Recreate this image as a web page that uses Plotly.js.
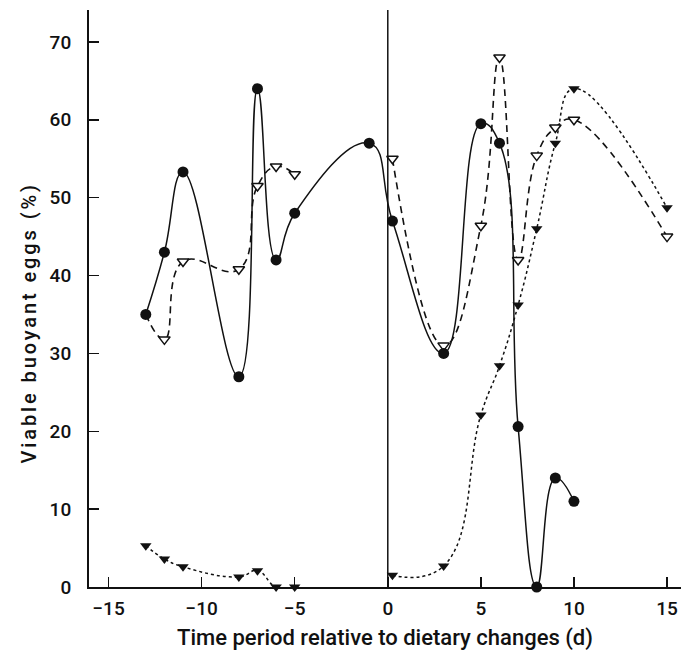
<!DOCTYPE html>
<html>
<head>
<meta charset="utf-8">
<script src="https://cdn.plot.ly/plotly-3.0.1.min.js"></script>
<style>
html,body{margin:0;padding:0;background:#fff;}
#chart{width:681px;height:653px;}
#chart .annotation-text{letter-spacing:2.9px;}
</style>
</head>
<body>
<div id="chart"></div>
<script>
// Series 1: filled circles, solid line
const circleX = [-13, -12, -11, -8, -7, -6, -5, -1, 0.25, 3, 5, 6, 7, 8, 9, 10];
const circleY = [35, 43, 53.3, 27, 64, 42, 48, 57, 47, 30, 59.5, 57, 20.6, 0, 14, 11];

// Series 2: open triangles, dashed line (null = gap in line)
const openX = [-13, -12, -11, -8, -7, -6, -5, null, 0.25, 3, 5, 6, 7, 8, 9, 10, 15];
const openY = [35, 31.8, 41.8, 40.8, 51.5, 54, 53, null, 55, 31, 46.4, 68, 42, 55.4, 59, 60, 45];
const openMarkerShown = [false, true, true, true, true, true, true, false, true, true, true, true, true, true, true, true, true];

// Series 3: filled triangles, dotted line
const fillX = [-13, -12, -11, -8, -7, -6, -5, null, 0.25, 3, 5, 6, 7, 8, 9, 10, 15];
const fillY = [5.3, 3.6, 2.6, 1.3, 2.1, 0, 0, null, 1.5, 2.7, 22.1, 28.4, 36.2, 46, 57, 64, 48.7];

const xTicks = [-15, -10, -5, 0, 5, 10, 15];
const yTicks = [0, 10, 20, 30, 40, 50, 60, 70];

const ink = '#111';
const fam = 'Roboto, Liberation Sans, Arial, sans-serif';

const traces = [
  {
    x: fillX, y: fillY, mode: 'lines+markers', connectgaps: false, cliponaxis: false,
    line: {shape: 'spline', smoothing: 1.3, color: ink, width: 1.5, dash: '3px,3px'},
    marker: {symbol: 'triangle-down', size: 10, color: ink, line: {width: 0}}
  },
  {
    x: openX, y: openY, mode: 'lines+markers', connectgaps: false, cliponaxis: false,
    line: {shape: 'spline', smoothing: 1.3, color: ink, width: 1.6, dash: '7px,5px'},
    marker: {symbol: 'triangle-down', size: 10, color: '#fff',
             opacity: openMarkerShown.map(v => v ? 1 : 0),
             line: {width: 1.5, color: ink}}
  },
  {
    x: circleX, y: circleY, mode: 'lines+markers', cliponaxis: false,
    line: {shape: 'spline', smoothing: 1.3, color: ink, width: 1.5},
    marker: {symbol: 'circle', size: 11, color: ink, line: {width: 0}}
  }
];

const layout = {
  width: 681, height: 653,
  margin: {l: 89, r: 0, t: 10, b: 66},
  paper_bgcolor: '#fff', plot_bgcolor: '#fff',
  showlegend: false,
  font: {family: fam, color: ink, size: 19},
  xaxis: {
    range: [-16.05, 15.75], tickvals: xTicks, ticktext: xTicks.map(v => v < 0 ? '\u2212' + Math.abs(v) : String(v)),
    ticks: 'inside', ticklen: 10, tickwidth: 1.5, tickcolor: ink,
    showline: true, linewidth: 2, linecolor: ink, showgrid: false, zeroline: false,
    ticklabelstandoff: 3,
    tickfont: {size: 19, family: fam, color: ink, weight: 500},
    title: {text: 'Time period relative to dietary changes (d)', standoff: 11,
            font: {size: 22, family: fam, color: ink, weight: 500}}
  },
  yaxis: {
    range: [0, 74.1], tickvals: yTicks,
    ticks: 'inside', ticklen: 10, tickwidth: 1.5, tickcolor: ink,
    showline: true, linewidth: 2, linecolor: ink, showgrid: false, zeroline: false,
    ticklabelstandoff: 12,
    tickfont: {size: 19, family: fam, color: ink, weight: 500}
  },
  annotations: [
    {text: 'Viable buoyant eggs (%)', textangle: -90, showarrow: false,
     xref: 'paper', yref: 'paper', x: -0.101, y: 0.4575, xanchor: 'center', yanchor: 'middle',
     font: {size: 20, family: fam, color: ink, weight: 500}}
  ],
  shapes: [
    {type: 'line', xref: 'x', yref: 'paper', x0: 0, x1: 0, y0: 0, y1: 1,
     line: {color: ink, width: 1.5}}
  ]
};

Plotly.newPlot('chart', traces, layout, {displayModeBar: false, staticPlot: true});
</script>
</body>
</html>
